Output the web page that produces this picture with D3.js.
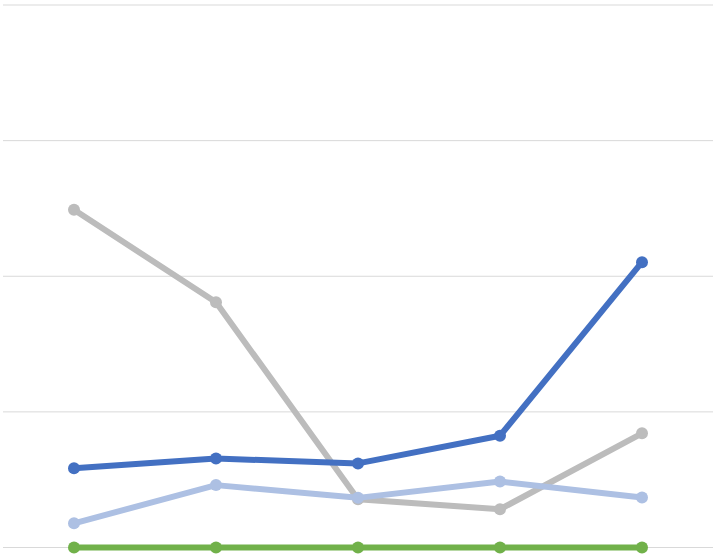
<!DOCTYPE html>
<html>
<head>
<meta charset="utf-8">
<script src="https://cdn.jsdelivr.net/npm/d3@7"></script>
<style>
  body { margin: 0; background: #fff; }
  svg { display: block; }
</style>
</head>
<body>
<svg width="717" height="556"></svg>
<script>
const categories = ['1', '2', '3', '4', '5']
const yTicks = [0, 50, 100, 150, 200]

const darkBlue = [29.2, 32.8, 31.0, 41.2, 105.2]
const lightBlue = [8.9, 23.0, 18.3, 24.3, 18.4]
const grey = [124.5, 90.4, 17.8, 14.1, 42.1]
const green = [0, 0, 0, 0, 0]

const series = [
  { name: 'grey', color: '#bcbcbc', values: grey },
  { name: 'lightBlue', color: '#adc0e3', values: lightBlue },
  { name: 'darkBlue', color: '#4370c2', values: darkBlue },
  { name: 'green', color: '#71b14a', values: green }
]

const svg = d3.select('svg')

const x = d3.scalePoint().domain(categories).range([3, 713]).padding(0.5)
const y = d3.scaleLinear().domain([0, 200]).range([547.5, 5])

// Gridlines
svg.append('g')
  .selectAll('line').data(yTicks).enter().append('line')
    .attr('x1', 3)
    .attr('x2', 713)
    .attr('y1', d => y(d))
    .attr('y2', d => y(d))
    .attr('stroke', '#d9d9d9')
    .attr('stroke-width', 1)

const line = d3.line()
  .x((d, i) => x(categories[i]))
  .y(d => y(d))

const g = svg.selectAll('g.series').data(series).enter().append('g')
  .attr('class', 'series')

g.append('path')
  .attr('d', d => line(d.values))
  .attr('fill', 'none')
  .attr('stroke', d => d.color)
  .attr('stroke-width', 6)
  .attr('stroke-linejoin', 'round')

g.selectAll('circle').data(d => d.values.map(v => ({ v, color: d.color }))).enter().append('circle')
  .attr('cx', (d, i) => x(categories[i]))
  .attr('cy', d => y(d.v))
  .attr('r', 6)
  .attr('fill', d => d.color)
</script>
</body>
</html>
